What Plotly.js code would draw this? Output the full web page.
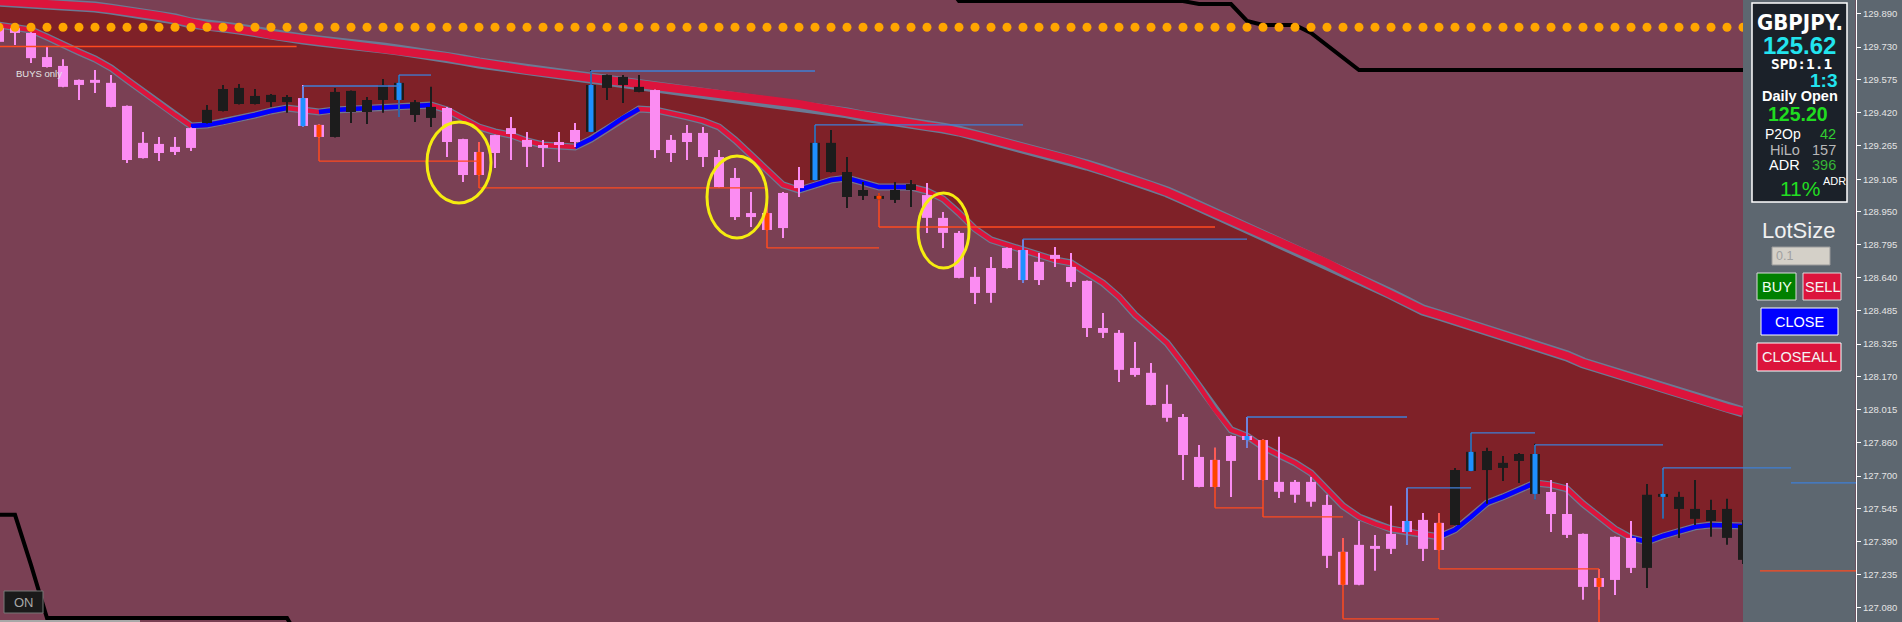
<!DOCTYPE html>
<html><head><meta charset="utf-8">
<script src="https://cdn.plot.ly/plotly-3.0.1.min.js"></script>
<style>html,body{margin:0;padding:0;background:#5d6770;overflow:hidden}#chart{width:1902px;height:622px}</style>
</head><body><div id="chart"></div>
<script>
// ---------- DATA (GBPJPY, bar index -1 .. 108) ----------
const firstBar = -1;
const open = [
129.820,129.820,129.797,129.683,129.641,129.575,129.575,129.561,129.452,129.277,
129.272,129.258,129.347,129.371,129.428,129.461,129.461,129.470,129.470,129.489,
129.362,129.305,129.423,129.423,129.480,129.480,129.409,129.395,129.442,129.295,
129.234,129.314,129.347,129.291,129.267,129.281,129.338,129.329,129.537,129.551,
129.518,129.527,129.291,129.324,129.324,129.210,129.111,128.945,128.945,129.040,
129.101,129.101,129.139,129.021,129.026,129.012,129.007,129.054,129.030,128.922,
128.851,128.643,128.685,128.780,128.770,128.714,128.747,128.690,128.624,128.401,
128.378,128.212,128.189,128.042,127.980,127.791,127.777,127.890,127.890,127.871,
127.673,127.673,127.673,127.564,127.342,127.375,127.370,127.427,127.488,127.493,
127.479,127.469,127.725,127.729,127.739,127.772,127.616,127.625,127.521,127.427,
127.218,127.413,127.408,127.266,127.602,127.545,127.498,127.488,127.408,127.304];
const high = [
129.830,129.825,129.800,129.731,129.673,129.577,129.622,129.598,129.454,129.329,
129.305,129.305,129.350,129.456,129.551,129.556,129.532,129.508,129.504,129.551,
129.364,129.537,129.525,129.494,129.579,129.598,129.480,129.542,129.447,129.297,
129.281,129.316,129.400,129.329,129.291,129.329,129.371,129.622,129.600,129.598,
129.598,129.530,129.314,129.362,129.352,129.243,129.158,129.045,129.007,129.045,
129.163,129.362,129.338,129.210,129.092,129.040,129.092,129.101,129.087,128.950,
128.860,128.690,128.737,128.782,128.818,128.756,128.784,128.756,128.626,128.472,
128.392,128.335,128.236,128.132,127.994,127.848,127.834,127.892,127.980,127.873,
127.886,127.682,127.696,127.612,127.408,127.488,127.422,127.560,127.644,127.526,
127.526,127.739,127.905,127.834,127.796,127.810,127.853,127.682,127.668,127.429,
127.261,127.415,127.488,127.663,127.729,127.626,127.682,127.588,127.593,127.493];
const low = [
129.740,129.740,129.655,129.634,129.540,129.480,129.513,129.445,129.182,129.203,
129.191,129.220,129.239,129.369,129.426,129.459,129.459,129.447,129.419,129.352,
129.303,129.303,129.371,129.366,129.419,129.400,129.376,129.352,129.210,129.092,
129.123,129.158,129.196,129.163,129.163,129.187,129.258,129.327,129.480,129.466,
129.516,129.205,129.187,129.196,129.163,129.066,128.912,128.879,128.863,128.827,
129.021,129.099,129.137,128.969,129.007,129.005,128.993,128.974,128.851,128.780,
128.636,128.515,128.520,128.683,128.614,128.604,128.690,128.595,128.359,128.354,
128.146,128.170,128.035,127.957,127.682,127.647,127.647,127.602,127.834,127.680,
127.597,127.574,127.555,127.266,127.184,127.184,127.252,127.332,127.375,127.299,
127.349,127.467,127.723,127.569,127.677,127.668,127.588,127.436,127.408,127.115,
127.115,127.138,127.242,127.171,127.498,127.408,127.469,127.413,127.375,127.285];
const close = [
129.755,129.797,129.678,129.636,129.542,129.551,129.561,129.447,129.196,129.205,
129.229,129.234,129.253,129.433,129.532,129.537,129.499,129.504,129.494,129.357,
129.305,129.518,129.523,129.480,129.551,129.561,129.470,129.447,129.281,129.125,
129.125,129.229,129.319,129.258,129.253,129.267,129.281,129.551,129.598,129.589,
129.542,129.243,129.229,129.281,129.210,129.068,128.926,128.926,128.865,128.874,
129.063,129.277,129.277,129.139,129.054,129.026,129.054,129.082,128.922,128.851,
128.638,128.567,128.567,128.685,128.628,128.628,128.728,128.619,128.401,128.378,
128.203,128.179,128.037,127.976,127.800,127.649,127.649,127.772,127.871,127.682,
127.626,127.612,127.579,127.323,127.186,127.186,127.356,127.356,127.436,127.356,
127.351,127.729,127.815,127.819,127.763,127.805,127.805,127.521,127.422,127.176,
127.176,127.209,127.266,127.612,127.616,127.602,127.545,127.540,127.545,127.469];
const fastMA = [
129.834,129.825,129.811,129.778,129.740,129.707,129.674,129.631,129.575,129.518,
129.466,129.409,129.357,129.362,129.376,129.390,129.409,129.428,129.442,129.433,
129.423,129.433,129.437,129.442,129.447,129.452,129.452,129.456,129.433,129.395,
129.352,129.329,129.314,129.286,129.267,129.262,129.258,129.295,129.343,129.395,
129.437,129.433,129.419,129.400,129.381,129.352,129.291,129.220,129.149,129.078,
129.054,129.078,129.101,129.111,129.092,129.068,129.068,129.068,129.049,129.012,
128.945,128.870,128.818,128.794,128.770,128.747,128.723,128.709,128.662,128.614,
128.548,128.463,128.397,128.330,128.231,128.127,128.013,127.919,127.890,127.838,
127.800,127.763,127.715,127.635,127.559,127.507,127.474,127.450,127.436,127.427,
127.413,127.446,127.507,127.573,127.602,127.635,127.668,127.659,127.640,127.569,
127.507,127.450,127.408,127.389,127.417,127.441,127.460,127.469,127.469,127.464];
const slowMA = [
129.948,129.944,129.944,129.939,129.934,129.929,129.920,129.910,129.901,129.887,
129.877,129.863,129.844,129.830,129.825,129.816,129.802,129.787,129.778,129.768,
129.759,129.754,129.745,129.735,129.726,129.716,129.707,129.698,129.683,129.669,
129.655,129.645,129.631,129.622,129.612,129.603,129.593,129.584,129.575,129.565,
129.556,129.546,129.537,129.527,129.518,129.508,129.499,129.489,129.480,129.470,
129.461,129.447,129.433,129.419,129.404,129.395,129.381,129.371,129.357,129.347,
129.333,129.314,129.295,129.277,129.258,129.239,129.220,129.196,129.172,129.149,
129.125,129.097,129.073,129.045,129.012,128.978,128.941,128.907,128.879,128.846,
128.813,128.775,128.742,128.709,128.671,128.633,128.595,128.562,128.524,128.486,
128.463,128.439,128.420,128.392,128.368,128.344,128.321,128.297,128.269,128.236,
128.212,128.189,128.160,128.137,128.113,128.089,128.066,128.042,128.023,128.004];
// bar ranges where the fast average is painted blue
const upSegments = [[11,17],[19,26],[35,39],[49,56],[89,95],[101,108]];
// price channel (upper from bar 58, lower up to bar 18)
const chanTopStart = 58;
const chanTop = [130.05,
129.948,129.948,129.948,129.948,129.948,129.948,129.948,129.948,129.948,129.948,129.948,129.948,129.948,129.948,129.948,
129.934,129.934,129.934,129.854,129.835,129.835,129.835,129.797,129.740,129.679,
129.622,129.622,129.622,129.622,129.622,129.622,129.622,129.622,129.622,129.622,129.622,129.622,129.622,
129.622,129.622,129.622,129.622,129.622,129.622,129.622,129.622,129.622,129.622,129.622,129.622];
const chanBotStart = -1;
const chanBot = [127.517,127.517,127.280,
127.029,127.029,127.029,127.029,127.029,127.029,127.029,127.029,
127.029,127.029,127.029,127.029,127.029,127.029,127.029,127.029,126.900];
const dotLevel = 129.824;
// signals: bar, level of the line, bar where the line ends
const buyBars   = [18, 24, 36, 50, 63, 77, 87, 91, 95, 103];
const buyLevels = [129.546,129.598,129.617,129.362,128.822,127.980,127.645,127.905,127.848,127.739];
const buyEnds   = [24, 26, 50, 63, 77, 87, 91, 95, 103, 111];
const sellBars   = [19, 29, 47, 54, 75, 78, 83, 89, 99];
const sellLevels = [129.191,129.064,128.780,128.879,127.550,127.507,127.025,127.261,126.980];
const sellEnds   = [29, 47, 54, 75, 78, 83, 89, 99, 105];
// lines without a visible signal bar: [startBar, endBar, level, kind]
const looseLines = [[-2, 17.6, 129.733, 'sell'], [111, 116, 127.668, 'buy'], [109.06, 116, 127.252, 'sell']];
// highlighted setups: [x0, x1, y0, y1]
const circles = [[25.75, 29.75, 128.993, 129.376], [43.25, 47.0, 128.827, 129.215], [56.44, 59.63, 128.685, 129.040]];
const tickVals = [129.890,129.730,129.575,129.420,129.265,129.105,128.950,128.795,128.640,128.485,128.325,128.170,128.015,127.860,127.700,127.545,127.390,127.235,127.080];
const tickText = tickVals.map(v => v.toFixed(3));

// ---------- BUILD ----------
const bars = open.map((_, i) => firstBar + i);
const PINK = '#fb8cf2', BLACK = '#1c1c1c', CRIMSON = '#dc143c', EDGE = '#6b7a94';
const SIGBLUE = '#1e90ff', SIGRED = '#ff4500', LBLUE = '#3f7fd6', LRED = '#ff4a1f';

function segTrace(color, width, list) {
  const x = [], y = [];
  list.forEach(s => { x.push(s[0], s[0], null); y.push(s[1], s[2], null); });
  return {x, y, mode: 'lines', line: {color, width}, hoverinfo: 'skip', connectgaps: false};
}
const pinkW = [], blackW = [], pinkB = [], blackB = [];
bars.forEach((k, i) => {
  const bear = open[i] > close[i];
  let top = Math.max(open[i], close[i]), bot = Math.min(open[i], close[i]);
  if (top - bot < 0.006) { const m = (top + bot) / 2; top = m + 0.003; bot = m - 0.003; }
  (bear ? pinkW : blackW).push([k, high[i], low[i]]);
  (bear ? pinkB : blackB).push([k, top, bot]);
});

const traces = [];
traces.push({x: bars, y: slowMA, mode: 'lines', line: {width: 0, color: 'rgba(0,0,0,0)'}, hoverinfo: 'skip'});
traces.push({x: bars, y: fastMA, mode: 'lines', line: {width: 0, color: 'rgba(0,0,0,0)'}, fill: 'tonexty', fillcolor: '#7f2128', hoverinfo: 'skip'});
traces.push({x: bars, y: slowMA, mode: 'lines', line: {width: 11, color: EDGE}, hoverinfo: 'skip'});
traces.push({x: bars, y: slowMA, mode: 'lines', line: {width: 8, color: CRIMSON}, hoverinfo: 'skip'});
traces.push({x: bars, y: fastMA, mode: 'lines', line: {width: 7, color: EDGE}, hoverinfo: 'skip'});
traces.push({x: bars, y: fastMA, mode: 'lines', line: {width: 4.5, color: CRIMSON}, hoverinfo: 'skip'});
(function () {
  const x = [], y = [];
  upSegments.forEach(([a, b]) => {
    for (let k = a; k <= b; k++) { x.push(k); y.push(fastMA[k - firstBar]); }
    x.push(null); y.push(null);
  });
  traces.push({x, y, mode: 'lines', line: {width: 4.5, color: '#0000ff'}, connectgaps: false, hoverinfo: 'skip'});
})();
traces.push({x: chanTop.map((_, i) => chanTopStart + i), y: chanTop, mode: 'lines', line: {width: 4, color: '#000000'}, hoverinfo: 'skip'});
traces.push({x: chanBot.map((_, i) => chanBotStart + i), y: chanBot, mode: 'lines', line: {width: 4, color: '#000000'}, hoverinfo: 'skip'});
traces.push(segTrace(PINK, 2, pinkW));
traces.push(segTrace(BLACK, 2, blackW));
traces.push(segTrace(PINK, 10, pinkB));
traces.push(segTrace(BLACK, 10, blackB));
// signal markers
const bThin = [], bThick = [], sThin = [], sThick = [];
buyBars.forEach((k, j) => {
  const i = k - firstBar;
  bThin.push([k, buyLevels[j], low[i]]);
  bThick.push([k, Math.max(open[i], close[i]), Math.min(open[i], close[i])]);
});
sellBars.forEach((k, j) => {
  const i = k - firstBar;
  sThin.push([k, high[i], sellLevels[j]]);
  sThick.push([k, Math.max(open[i], close[i]), Math.min(open[i], close[i])]);
});
traces.push(segTrace(LBLUE, 1.5, bThin));
traces.push(segTrace(LRED, 1.5, sThin));
traces.push(segTrace(SIGBLUE, 5, bThick));
traces.push(segTrace(SIGRED, 5, sThick));
traces.push({x: bars, y: bars.map(() => dotLevel), mode: 'markers', marker: {size: 9, color: '#ffa500', line: {width: 0}}, hoverinfo: 'skip'});

// ---------- LAYOUT ----------
const W = 1856, H = 622;
const px = v => v / W, py = v => 1 - v / H;
const shapes = [];
shapes.push({type: 'rect', xref: 'paper', yref: 'paper', x0: px(1743), x1: px(1855.5), y0: 0, y1: 1, fillcolor: '#5d6770', line: {width: 0}, layer: 'above'});
buyBars.forEach((k, j) => shapes.push({type: 'line', xref: 'x', yref: 'y', x0: k, x1: buyEnds[j], y0: buyLevels[j], y1: buyLevels[j], line: {color: LBLUE, width: 1.3}}));
sellBars.forEach((k, j) => shapes.push({type: 'line', xref: 'x', yref: 'y', x0: k, x1: sellEnds[j], y0: sellLevels[j], y1: sellLevels[j], line: {color: LRED, width: 1.3}}));
looseLines.forEach(([a, b, lv, kind]) => shapes.push({type: 'line', xref: 'x', yref: 'y', x0: a, x1: b, y0: lv, y1: lv, line: {color: kind === 'buy' ? LBLUE : LRED, width: 1.3}}));
circles.forEach(([x0, x1, y0, y1]) => shapes.push({type: 'circle', xref: 'x', yref: 'y', x0, x1, y0, y1, line: {color: '#f5ec10', width: 3}, fillcolor: 'rgba(0,0,0,0)'}));
function box(x0, y0, x1, y1, fill, lc, lw) {
  shapes.push({type: 'rect', xref: 'paper', yref: 'paper', x0: px(x0), x1: px(x1), y0: py(y1), y1: py(y0), fillcolor: fill, line: {color: lc, width: lw}});
}
box(1752, 3, 1847, 202, '#1b2129', '#ffffff', 1.5);
box(1772, 247, 1830, 265, '#d4d0c8', '#9a9a9a', 1);
box(1757, 273, 1796, 300, '#008000', '#dddddd', 1);
box(1803, 273, 1841, 300, '#dc143c', '#dddddd', 1);
box(1761, 308, 1838, 335, '#0000ff', '#ffffff', 1);
box(1757, 343, 1841, 371, '#dc143c', '#ffffff', 1);
box(4, 591, 43, 613, '#1a1a1a', '#777777', 1);
shapes.push({type: 'line', xref: 'paper', yref: 'paper', x0: 0, x1: px(140), y0: py(621), y1: py(621), line: {color: '#a8a8a8', width: 2}});

const SANS = 'Liberation Sans, Arial, sans-serif';
const annotations = [];
function txt(t, x, y, anchor, size, color, family) {
  annotations.push({text: t, xref: 'paper', yref: 'paper', x: px(x), y: py(y), xanchor: anchor, yanchor: 'middle', showarrow: false,
    font: {family: family || SANS, size, color}, borderpad: 0});
}
txt('<b>GBPJPY.</b>', 1800, 23, 'center', 22, '#ffffff', 'Liberation Sans Narrow, DejaVu Sans Condensed, Arial Narrow, sans-serif');
txt('<b>125.62</b>', 1799.5, 45, 'center', 24, '#22e4ee');
txt('<b>SPD:1.1</b>', 1801, 64, 'center', 14.5, '#ffffff', 'DejaVu Sans Mono, monospace');
txt('<b>1:3</b>', 1838, 80.5, 'right', 19, '#22e4ee');
txt('<b>Daily Open</b>', 1799.5, 96, 'center', 14.5, '#ffffff');
txt('<b>125.20</b>', 1798, 114, 'center', 19.5, '#20dc20');
txt('P2Op', 1764, 134, 'left', 14, '#ffffff');
txt('42', 1837, 134, 'right', 14.5, '#32cd32');
txt('HiLo', 1769, 149.5, 'left', 14.5, '#b8b8b8');
txt('157', 1837, 149.5, 'right', 14.5, '#b8b8b8');
txt('ADR', 1768, 165, 'left', 14.5, '#ffffff');
txt('396', 1837, 165, 'right', 14.5, '#36b536');
txt('11%', 1779, 189, 'left', 21, '#22dd22');
txt('ADR', 1822, 181, 'left', 11, '#ffffff');
txt('LotSize', 1798, 231, 'center', 22, '#f0f0f0');
txt('0.1', 1775, 256, 'left', 12.5, '#a0a0a0');
txt('BUY', 1776.5, 287, 'center', 14.5, '#f0fff0');
txt('SELL', 1822, 287, 'center', 14.5, '#f4f4f4');
txt('CLOSE', 1799.5, 322, 'center', 14.5, '#ffffff');
txt('CLOSEALL', 1799, 357, 'center', 14.5, '#f4f4f4');
txt('ON', 23.5, 602.5, 'center', 13, '#a8a8a8');
txt('BUYS only', 15, 73, 'left', 9.5, '#e4e4e4');

const layout = {
  width: 1902, height: 622,
  margin: {l: 0, r: 46, t: 0, b: 0, pad: 0},
  paper_bgcolor: '#5d6770', plot_bgcolor: '#7a4054',
  showlegend: false, hovermode: false, dragmode: false,
  xaxis: {range: [-0.9375, 115.0625], visible: false, fixedrange: true},
  yaxis: {range: [127.010, 129.953], side: 'right', tickmode: 'array', tickvals: tickVals, ticktext: tickText,
    ticks: 'outside', ticklen: 4, tickwidth: 1, tickcolor: '#ffffff', showline: true, linecolor: '#ffffff', linewidth: 1,
    showgrid: false, zeroline: false, fixedrange: true,
    tickfont: {family: SANS, size: 9.5, color: '#e4e4e4'}},
  shapes, annotations
};
Plotly.newPlot('chart', traces, layout, {staticPlot: true, displayModeBar: false});
</script></body></html>
